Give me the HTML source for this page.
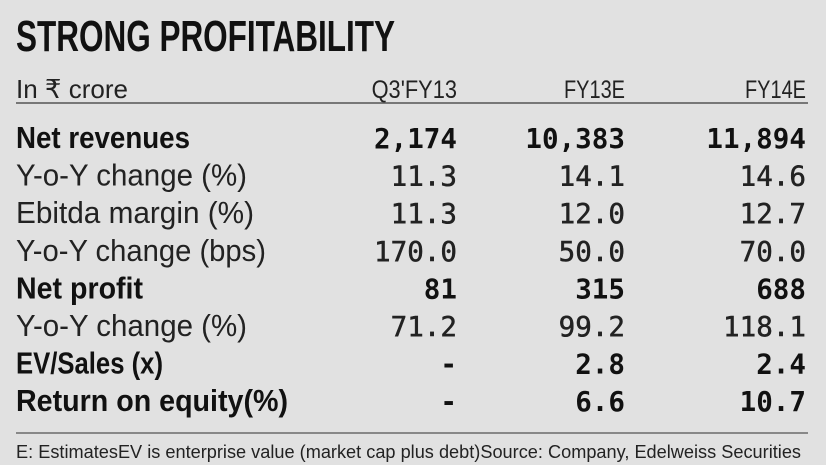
<!DOCTYPE html>
<html><head><meta charset="utf-8"><style>
html,body{margin:0;padding:0;background:#e1e1e1;}
svg{display:block}
</style></head><body>
<svg width="826" height="465" viewBox="0 0 826 465" id="tbl">
<rect width="826" height="465" fill="#e1e1e1"/>
<text x="16" y="51" font-family="Liberation Sans, sans-serif" font-weight="bold" font-size="44" textLength="379" lengthAdjust="spacingAndGlyphs" fill="#111">STRONG PROFITABILITY</text>
<text x="16" y="98" font-family="Liberation Sans, sans-serif" font-size="26" textLength="112" lengthAdjust="spacingAndGlyphs" fill="#222">In ₹ crore</text>
<line x1="16" y1="103" x2="808" y2="103" stroke="#777" stroke-width="2"/>
<line x1="16" y1="433" x2="808" y2="433" stroke="#888" stroke-width="2"/>
<text x="16" y="458" font-family="Liberation Sans, sans-serif" font-size="18" textLength="785" lengthAdjust="spacingAndGlyphs" fill="#222">E: EstimatesEV is enterprise value (market cap plus debt)Source: Company, Edelweiss Securities</text>
</svg>
<script>
const columns = ["Q3'FY13", "FY13E", "FY14E"];
const rowLabels = ["Net revenues","Y-o-Y change (%)","Ebitda margin (%)","Y-o-Y change (bps)","Net profit","Y-o-Y change (%)","EV/Sales (x)","Return on equity(%)"];
const boldRows = [true,false,false,false,true,false,true,true];
const q3fy13 = ["2,174","11.3","11.3","170.0","81","71.2","-","-"];
const fy13e = ["10,383","14.1","12.0","50.0","315","99.2","2.8","6.6"];
const fy14e = ["11,894","14.6","12.7","70.0","688","118.1","2.4","10.7"];

const svg = document.getElementById('tbl');
const NS = 'http://www.w3.org/2000/svg';
const colRight = [457, 625, 806];
const labelWidths = [174,231,238,250,127,231,147,272];
const rowY = i => 148 + i * 37.6;
function mk(x, y, txt, opts) {
  const t = document.createElementNS(NS, 'text');
  t.setAttribute('x', x); t.setAttribute('y', y);
  t.setAttribute('font-family', opts.mono ? 'DejaVu Sans Mono, Liberation Mono, monospace' : 'Liberation Sans, sans-serif');
  t.setAttribute('font-size', opts.size);
  if (opts.bold) t.setAttribute('font-weight', 'bold');
  if (opts.anchor) t.setAttribute('text-anchor', opts.anchor);
  if (opts.len) { t.setAttribute('textLength', opts.len); t.setAttribute('lengthAdjust', 'spacingAndGlyphs'); }
  t.setAttribute('fill', opts.bold ? '#111' : '#222');
  if (!opts.bold && opts.mono) { t.setAttribute('stroke', '#222'); t.setAttribute('stroke-width', '0.5'); }
  t.textContent = txt;
  svg.appendChild(t);
  return t;
}
columns.forEach((c, j) => {
  const t = mk(colRight[j], 98, c, {size: 25, mono: false, anchor: 'end', len: c.length * 12.2});
  
  
});
const cols = [q3fy13, fy13e, fy14e];
rowLabels.forEach((lab, i) => {
  const t = mk(16, rowY(i), lab, {size: 31, bold: boldRows[i], len: labelWidths[i]});
  
  
  cols.forEach((arr, j) => {
    const v = mk(colRight[j], rowY(i), arr[i], {size: 28, bold: boldRows[i], mono: true, anchor: 'end', len: arr[i].length * 16.6});
    
    
  });
});
</script>
</body></html>
